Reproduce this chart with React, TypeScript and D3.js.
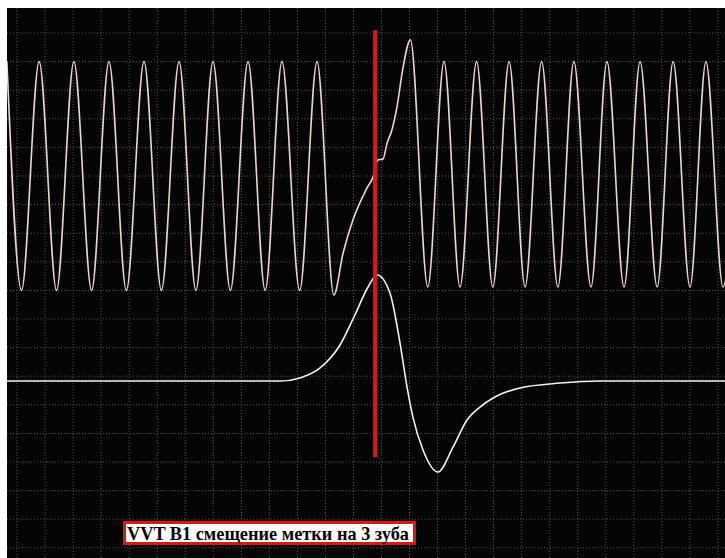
import * as d3 from "d3";

// time in grid divisions, voltage in grid divisions
const crankSignal: [number, number][] = [
  [-0.36, 8.0], [0.16, 0.0], [0.79, 8.0], [1.41, 0.0], [2.03, 8.0],
  [2.66, 0.0], [3.28, 8.0], [3.9, 0.0], [4.53, 8.0], [5.15, 0.0],
  [5.78, 8.0], [6.38, 0.0], [6.99, 8.0], [7.61, 0.0], [8.24, 8.0],
  [8.85, 0.0], [9.45, 8.0], [10.08, 0.0], [10.7, 8.0], [11.3, -0.16],
  [11.63, 1.31], [11.98, 2.46], [12.48, 3.58], [12.7, 3.97], [12.87, 4.56],
  [13.05, 4.59], [13.2, 5.15], [13.37, 5.61], [13.55, 6.41], [13.77, 7.81],
  [14.03, 8.76], [14.65, 0.12], [15.23, 8.0], [15.8, 0.12], [16.39, 8.0],
  [16.97, 0.12], [17.55, 8.0], [18.12, 0.12], [18.71, 8.0], [19.29, 0.12],
  [19.86, 8.0], [20.47, 0.12], [21.04, 8.0], [21.65, 0.12], [22.22, 8.0],
  [22.83, 0.12], [23.4, 8.0], [24.0, 0.12], [24.57, 8.0], [25.18, 0.12],
  [25.75, 8.0],
];

const camSignal: [number, number][] = [
  [-0.46, -3.17], [9.38, -3.17], [10.09, -3.06], [10.81, -2.71],
  [11.52, -1.91], [12.05, -0.86], [12.52, 0.12], [12.84, 0.54],
  [13.3, -0.09], [13.66, -1.84], [13.91, -3.38], [14.12, -4.43],
  [14.48, -5.58], [15.01, -6.35], [15.55, -5.48], [16.05, -4.53],
  [16.51, -4.08], [16.98, -3.76], [17.94, -3.41], [19.37, -3.24],
  [20.79, -3.17], [25.43, -3.17],
];

const markerTime = 12.77;
const markerRange = [9.1, -5.83];
const labelText = "VVT B1 смещение метки на 3 зуба";

export default function App() {
  const width = 725;
  const height = 558;
  const plot = { left: 7, top: 8 };

  const xScale = d3.scaleLinear().domain([0, 25]).range([17, 718]);
  const yScale = d3.scaleLinear().domain([9, -9]).range([33, 547.8]);

  const line = d3
    .line<[number, number]>()
    .x((d) => xScale(d[0]))
    .y((d) => yScale(d[1]))
    .curve(d3.curveMonotoneX);

  const xGrid = d3.range(0, 26);
  const yGrid = d3.range(-9, 10);

  return (
    <div style={{ position: "fixed", left: 0, top: 0, width, height }}>
      <svg width={width} height={height} style={{ display: "block" }}>
        <defs>
          <clipPath id="plotClip">
            <rect x={plot.left} y={plot.top} width={width - plot.left} height={height - plot.top} />
          </clipPath>
        </defs>
        <rect x={0} y={0} width={width} height={height} fill="#ffffff" />
        <rect x={plot.left} y={plot.top} width={width - plot.left} height={height - plot.top} fill="#040404" />

        {/* dotted grid */}
        <g stroke="#505050" strokeWidth={1} strokeDasharray="1 2" clipPath="url(#plotClip)">
          {xGrid.map((t) => (
            <line key={`vx-${t}`} x1={xScale(t)} x2={xScale(t)} y1={plot.top} y2={height} />
          ))}
          {yGrid.map((v) => (
            <line key={`hy-${v}`} x1={plot.left} x2={width} y1={yScale(v)} y2={yScale(v)} />
          ))}
        </g>

        <g clipPath="url(#plotClip)" fill="none">
          <path d={line(crankSignal) ?? ""} stroke="#ecd6d4" strokeWidth={1.6} />
          <path d={line(camSignal) ?? ""} stroke="#f2f2f2" strokeWidth={1.6} />
        </g>

        {/* marker */}
        <line
          x1={xScale(markerTime)}
          x2={xScale(markerTime)}
          y1={yScale(markerRange[0])}
          y2={yScale(markerRange[1])}
          stroke="#e01515"
          strokeWidth={4}
        />

        {/* label */}
        <rect x={123} y={521} width={293} height={24} fill="#d81818" />
        <rect x={126} y={524} width={287} height={18} fill="#ffffff" />
        <text
          x={127}
          y={539.5}
          fontFamily="'Liberation Serif', 'Times New Roman', serif"
          fontWeight="bold"
          fontSize={19}
          fill="#000000"
          textLength={282}
          lengthAdjust="spacingAndGlyphs"
        >
          {labelText}
        </text>
      </svg>
    </div>
  );
}
